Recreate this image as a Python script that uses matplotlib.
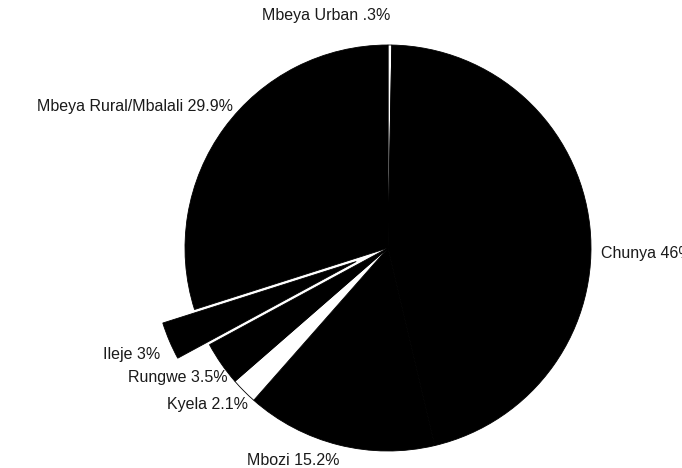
import matplotlib.pyplot as plt

# district shares (%), clockwise from 12 o'clock
districts = ["Mbeya Urban", "Chunya", "Mbozi", "Kyela", "Rungwe", "Ileje",
             "Mbeya Rural/Mbalali"]
shares = [0.3, 46.0, 15.2, 2.1, 3.5, 3.0, 29.9]


def fmt_pct(v):
    s = f"{v:.1f}".rstrip("0").rstrip(".")
    if s.startswith("0."):
        s = s[1:]
    return s + "%"


labels = [f"{d} {fmt_pct(v)}" for d, v in zip(districts, shares)]

plt.rcParams["font.family"] = ["Liberation Sans", "DejaVu Sans"]

fig = plt.figure(figsize=(6.82, 4.68), dpi=100)
ax = fig.add_axes([0, 0, 1, 1])

colors = ["white", "black", "black", "white", "black", "black", "black"]
explode = [0, 0, 0, 0, 0, 0.17, 0]

wedges, texts = ax.pie(
    shares,
    labels=labels,
    colors=colors,
    explode=explode,
    startangle=90,
    counterclock=False,
    radius=1.0,
    wedgeprops=dict(edgecolor="black", linewidth=0.6),
    textprops=dict(fontsize=11.5, color="#1a1a1a"),
)

# label placement (data units, radius = 1)
label_pos = {
    "Mbeya Urban": ((-0.305, 1.143), "center"),
    "Chunya": ((1.049, -0.025), "left"),
    "Mbozi": ((-0.241, -1.049), "right"),
    "Kyela": ((-0.690, -0.773), "right"),
    "Rungwe": ((-0.788, -0.640), "right"),
    "Ileje": ((-1.123, -0.527), "right"),
    "Mbeya Rural/Mbalali": ((-0.764, 0.695), "right"),
}
for name, t in zip(districts, texts):
    (x, y), ha = label_pos[name]
    t.set_position((x, y))
    t.set_ha(ha)
    t.set_va("center")

# pie centre at (388, 248) px, radius 203 px
ax.set_xlim(-388 / 203, (682 - 388) / 203)
ax.set_ylim(-(468 - 248) / 203, 248 / 203)
ax.set_aspect("auto")
ax.axis("off")

fig.savefig("out.png", dpi=100, facecolor="white")
